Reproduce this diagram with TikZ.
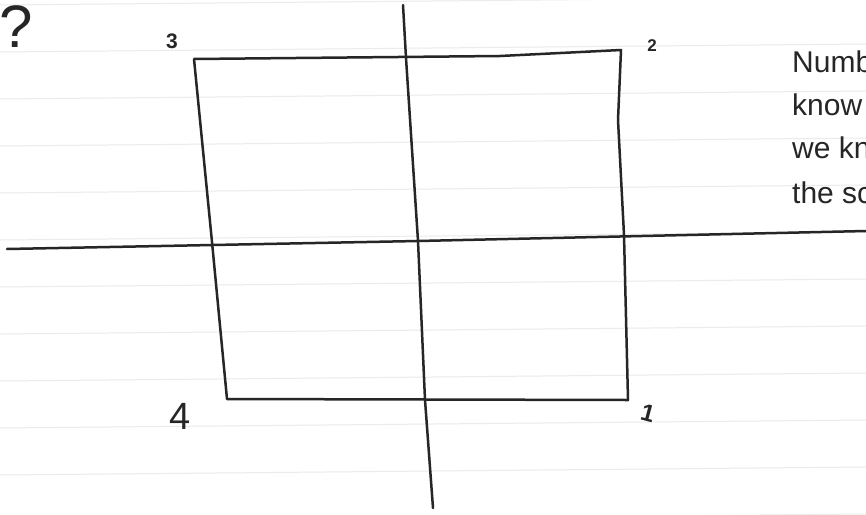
\documentclass[tikz,border=0pt]{standalone}
\usepackage{fontspec}
\newfontfamily\notefont{Liberation Sans}
\newfontfamily\handfont{Liberation Sans}
\definecolor{ink}{HTML}{262626}
\definecolor{rule}{HTML}{EBEBEB}
\begin{document}
\begin{tikzpicture}[x=1pt,y=-1pt,
  pen/.style={draw=ink,line width=2.5pt,line cap=round,line join=round},
  paperline/.style={draw=rule,line width=1pt},
  hand/.style={text=ink,inner sep=0pt},
  note/.style={text=ink,anchor=base west,inner sep=0pt,font=\notefont\fontsize{30}{36}\selectfont}]
\useasboundingbox (0,0) rectangle (866,514);
\clip (0,0) rectangle (866,514);
\fill[white] (0,0) rectangle (866,514);
% ruled paper
\foreach \k in {0,...,11}{
  \draw[paperline] (0,{5+47*\k}) -- (866,{-3+47*\k});
}
% corners of the square
\coordinate (tl) at (194,59);
\coordinate (tm) at (500,56);
\coordinate (tr) at (621,50);
\coordinate (rm1) at (618,120);
\coordinate (rm2) at (624,235);
\coordinate (br) at (628,400);
\coordinate (bl) at (227,399);
\coordinate (lm) at (212,242);
% axes
\coordinate (ht0) at (7,249);
\coordinate (ht1) at (418,241);
\coordinate (ht2) at (866,231);
\coordinate (vt0) at (403,5);
\coordinate (vt1) at (406,58);
\coordinate (vt2) at (418,241);
\coordinate (vt3) at (425,400);
\coordinate (vt4) at (433,508);
% square
\draw[pen] (tl) -- (tm) -- (tr) -- (rm1) -- (rm2) -- (br) -- (bl) -- (lm) -- (tl);
% horizontal axis
\draw[pen] (ht0) -- (ht1) -- (ht2);
% vertical axis
\draw[pen] (vt0) -- (vt1) -- (vt2) -- (vt3) -- (vt4);
% handwritten labels
\node[hand,anchor=north,font=\handfont\fontsize{60}{62}\selectfont] (q) at (16,5) {?};
\node[hand,font=\handfont\bfseries\fontsize{21}{22}\selectfont] (l3) at (172,41) {3};
\node[hand,font=\handfont\bfseries\fontsize{17}{18}\selectfont] (l2) at (652,46) {2};
\node[hand,font=\handfont\fontsize{38}{40}\selectfont] (l4) at (180,416) {4};
\node[hand,font=\handfont\bfseries\fontsize{24}{26}\selectfont,rotate=-15] (l1) at (648,413) {1};
% note text (cut by the right edge, as in the reference)
\node[note] (n1) at (792,72) {Numb};
\node[note] (n2) at (792,115) {know};
\node[note] (n3) at (792,158) {we kn};
\node[note] (n4) at (792,203) {the sc};
\end{tikzpicture}
\end{document}
